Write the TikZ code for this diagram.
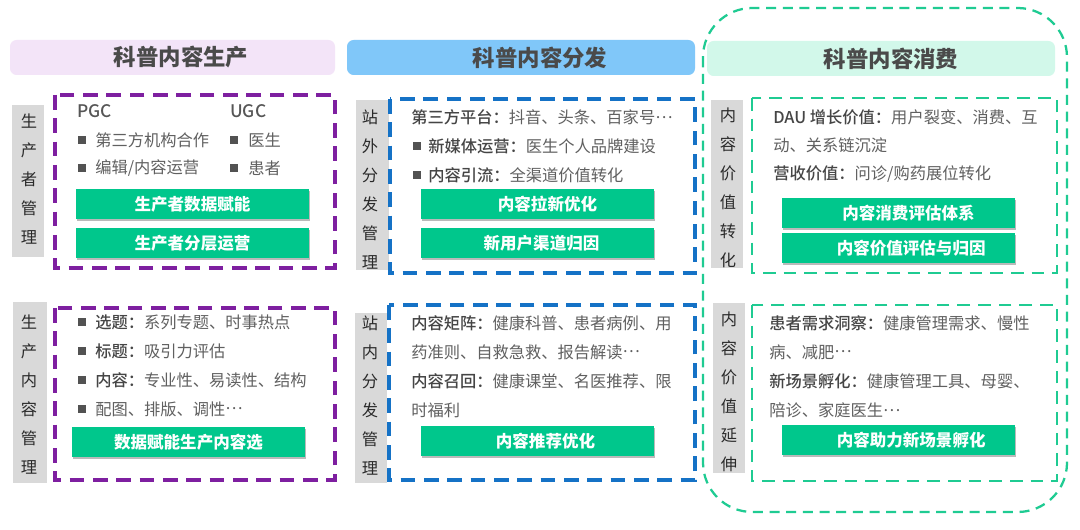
\documentclass[tikz,border=0pt]{standalone}
\usepackage{fontspec}
\setmainfont{Noto Sans CJK SC}
\newfontfamily\med{Noto Sans CJK SC Medium}
\usetikzlibrary{shadows}
\definecolor{txt}{HTML}{606060}
\definecolor{txtb}{HTML}{454545}
\definecolor{btnc}{HTML}{00C78C}
\definecolor{pur}{HTML}{7E1FA0}
\definecolor{blu}{HTML}{1572C6}
\definecolor{grn}{HTML}{1FCB92}
\definecolor{hp}{HTML}{F3E4F8}
\definecolor{hb}{HTML}{80C7F9}
\definecolor{hg}{HTML}{D2F8EA}
\definecolor{sidec}{HTML}{D9D9D9}
\definecolor{sidetxtc}{HTML}{2A2A2A}
\definecolor{hdrtxt}{HTML}{4A4A4A}
\newcommand{\bp}[1]{\textcolor{txtb}{\med #1}}
\newcommand{\mydots}{\raisebox{0.32em}{…}}
\begin{document}
\begin{tikzpicture}[x=0.75pt,y=-0.75pt,
  every node/.style={inner sep=0pt},
  tx/.style={anchor=west, text=txt, font=\fontsize{12.2}{14}\selectfont},
  big/.style={anchor=west, text=txt!90!black, font=\med\fontsize{13}{15}\selectfont},
  bul/.style={fill=txt!85!black, minimum size=5.6pt},
  btn/.style={fill=btnc, text=white, font=\bfseries\fontsize{12.4}{14}\selectfont,
    minimum width=174.75pt, minimum height=22.5pt,
    drop shadow={shadow xshift=0.8pt,shadow yshift=-1.8pt,opacity=0.45,fill=black!60}},
  hdr/.style={rounded corners=5pt, minimum height=26.25pt, text=hdrtxt,
    font=\bfseries\fontsize{16.8}{18}\selectfont},
  sidetxt/.style={align=center, text=sidetxtc, font=\fontsize{12.2}{21.75}\selectfont},
  pdash/.style={draw=pur, line width=2.6pt, dash pattern=on 11pt off 6.5pt},
  bdash/.style={draw=blu, line width=2.6pt, dash pattern=on 11pt off 6.5pt},
  gdash/.style={draw=grn, line width=2.2pt, dash pattern=on 9.5pt off 6pt},
  bigdash/.style={draw=grn, line width=1.7pt, dash pattern=on 7.5pt off 5pt}
]
\useasboundingbox (0,0) rectangle (1080,530);
\fill[white] (0,0) rectangle (1080,530);

% big rounded frame
\draw[bigdash, rounded corners=37pt] (703,8) rectangle (1067,512);

% headers
\node[hdr, fill=hp, minimum width=243.75pt] (h1) at (172.5,57.5) {\hspace*{12.75pt}科普内容生产};
\node[hdr, fill=hb, minimum width=261pt] (h2) at (521,57.5) {\hspace*{28.5pt}科普内容分发};
\node[hdr, fill=hg, minimum width=261pt] (h3) at (881,58.5) {\hspace*{15pt}科普内容消费};

% ---------- column 1 top
\fill[sidec] (12,105) rectangle (44,257);
\node[sidetxt] (s1) at (29,179) {生\\产\\者\\管\\理};
\draw[pdash] (55,95) rectangle (335,268);
\node[big] (pgc) at (77,111) {PGC};
\node[big] (ugc) at (230,111) {UGC};
\node[bul] (b11) at (82,140) {};
\node[tx] (t11) at (95,140) {第三方机构合作};
\node[bul] (b12) at (82,168) {};
\node[tx] (t12) at (95,168) {编辑/内容运营};
\node[bul] (b13) at (234,140) {};
\node[tx] (t13) at (248,140) {医生};
\node[bul] (b14) at (234,168) {};
\node[tx] (t14) at (248,168) {患者};
\node[btn] (k11) at (192.5,204) {生产者数据赋能};
\node[btn] (k12) at (192.5,243) {生产者分层运营};

% ---------- column 1 bottom
\fill[sidec] (13,302) rectangle (47,483);
\node[sidetxt] (s2) at (29,395) {生\\产\\内\\容\\管\\理};
\draw[pdash] (55,308) rectangle (335,480);
\node[bul] (b21) at (82,322) {};
\node[tx] (t21) at (95,322) {\bp{选题：}系列专题、时事热点};
\node[bul] (b22) at (82,351) {};
\node[tx] (t22) at (95,351) {\bp{标题：}吸引力评估};
\node[bul] (b23) at (82,380) {};
\node[tx] (t23) at (95,380) {\bp{内容：}专业性、易读性、结构};
\node[bul] (b24) at (82,409) {};
\node[tx] (t24) at (95,409) {配图、排版、调性\mydots};
\node[btn] (k21) at (188.5,442) {数据赋能生产内容选};

% ---------- column 2 top
\fill[sidec] (356,100) rectangle (389,270);
\node[sidetxt] (s3) at (370,190) {站\\外\\分\\发\\管\\理};
\draw[bdash] (390,99) rectangle (695,273);
\node[tx] (t31) at (411,117) {\bp{第三方平台：}抖音、头条、百家号\mydots};
\node[bul] (b32) at (417,146) {};
\node[tx] (t32) at (428,146) {\bp{新媒体运营：}医生个人品牌建设};
\node[bul] (b33) at (417,175) {};
\node[tx] (t33) at (428,175) {\bp{内容引流：}全渠道价值转化};
\node[btn] (k31) at (537.5,204) {\hspace*{15pt}内容拉新优化};
\node[btn] (k32) at (537.5,243) {\hspace*{6pt}新用户渠道归因};

% ---------- column 2 bottom
\fill[sidec] (355,313) rectangle (387,483);
\node[sidetxt] (s4) at (370,396) {站\\内\\分\\发\\管\\理};
\draw[bdash] (389,305) rectangle (695,480);
\node[tx] (t41) at (411,323) {\bp{内容矩阵：}健康科普、患者病例、用};
\node[tx] (t42) at (411,352) {药准则、自救急救、报告解读\mydots};
\node[tx] (t43) at (411,381) {\bp{内容召回：}健康课堂、名医推荐、限};
\node[tx] (t44) at (411,410) {时福利};
\node[btn] (k41) at (537.5,441) {\hspace*{12pt}内容推荐优化};

% ---------- column 3 top
\fill[sidec] (711,100) rectangle (743,268);
\node[sidetxt] (s5) at (728,188) {内\\容\\价\\值\\转\\化};
\draw[gdash] (752,98) rectangle (1057,273);
\node[tx] (t51) at (773,117) {\bp{DAU 增长价值：}用户裂变、消费、互};
\node[tx] (t52) at (773,145) {动、关系链沉淀};
\node[tx] (t53) at (773,174) {\bp{营收价值：}问诊/购药展位转化};
\node[btn] (k51) at (898.5,213) {\hspace*{15pt}内容消费评估体系};
\node[btn] (k52) at (898.5,248) {\hspace*{19pt}内容价值评估与归因};

% ---------- column 3 bottom
\fill[sidec] (713,303) rectangle (745,473);
\node[sidetxt] (s6) at (729,392) {内\\容\\价\\值\\延\\伸};
\draw[gdash] (752,305) rectangle (1057,481);
\node[tx] (t61) at (769,323) {\bp{患者需求洞察：}健康管理需求、慢性};
\node[tx] (t62) at (769,352) {病、减肥\mydots};
\node[tx] (t63) at (769,381) {\bp{新场景孵化：}健康管理工具、母婴、};
\node[tx] (t64) at (769,410) {陪诊、家庭医生\mydots};
\node[btn] (k61) at (898.5,440) {\hspace*{19pt}内容助力新场景孵化};
\end{tikzpicture}
\end{document}
